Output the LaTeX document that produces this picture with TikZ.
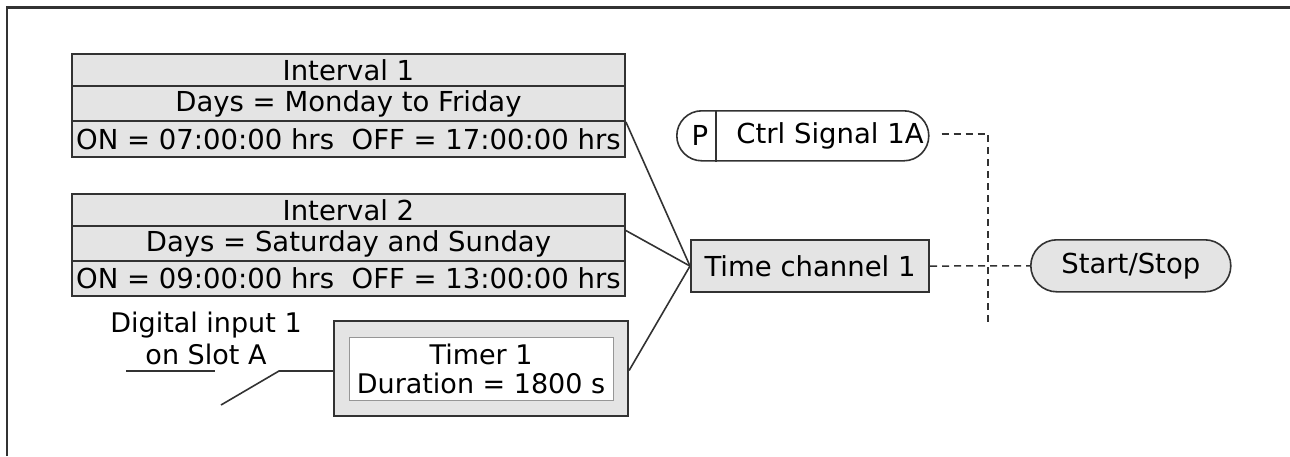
\documentclass[tikz,border=0pt]{standalone}
\usepackage{fontspec}
\setmainfont{DejaVu Sans}
\usetikzlibrary{calc}
\definecolor{boxfill}{RGB}{228,228,228}
\definecolor{edge}{RGB}{50,50,50}
\begin{document}
\begin{tikzpicture}[x=1pt,y=-1pt,
  font=\fontsize{27.5}{32}\selectfont,
  row/.style={draw=edge, line width=1.9pt, fill=boxfill, minimum width=553pt, inner sep=0pt, anchor=north west},
  gbox/.style={draw=edge, line width=2.1pt, fill=boxfill, inner sep=0pt, anchor=north west},
  pill/.style={draw=edge, line width=1.6pt, inner sep=0pt, anchor=north west, rounded corners=25pt},
  conn/.style={draw=edge, line width=1.6pt},
  dashline/.style={draw=edge, line width=1.5pt, dash pattern=on 7pt off 5pt}]
\useasboundingbox (0,0) rectangle (1290,456);
% frame
\draw[edge, line width=2.2pt] (7,456) -- (7,7.5) -- (1290,7.5);

% Interval 1
\node[row, minimum height=32pt] (i1a) at (71,53) {Interval 1};
\node[row, minimum height=35pt] (i1b) at (71,85) {Days = Monday to Friday};
\node[row, minimum height=36pt] (i1c) at (71,120) {ON = 07:00:00 hrs\ \ OFF = 17:00:00 hrs};

% Interval 2
\node[row, minimum height=32pt] (i2a) at (71,193) {Interval 2};
\node[row, minimum height=35pt] (i2b) at (71,225) {Days = Saturday and Sunday};
\node[row, minimum height=35pt] (i2c) at (71,260) {ON = 09:00:00 hrs\ \ OFF = 13:00:00 hrs};

% Timer
\node[gbox, minimum width=294pt, minimum height=95pt] (timer) at (333,320) {};
\node[draw={rgb,255:red,150;green,150;blue,150}, line width=1pt, fill=white, minimum width=264pt, minimum height=63pt, inner sep=0pt, align=center, font=\fontsize{27}{29}\selectfont] (timerin) at (timer.center) {Timer 1\\Duration = 1800 s};

% Digital input
\node[align=center, inner sep=0pt, font=\fontsize{27}{32}\selectfont] (din) at (206,338) {Digital input 1\\on Slot A};
\coordinate (ul1) at (126,371);
\coordinate (ul2) at (215,371);
\draw[conn] (ul1) -- (ul2);
\coordinate (sw) at (221,405);
\coordinate (knee) at (279,371);
\draw[conn] (sw) -- (knee) -- (timer.west |- knee);

% Time channel
\node[gbox, minimum width=238pt, minimum height=52pt] (tc) at (690,239) {Time channel 1};

% Ctrl signal pill
\node[pill, fill=white, minimum width=252pt, minimum height=50pt] (ctrl) at (676,110) {};
\draw[edge, line width=1.4pt] ($(ctrl.north west)+(40,0)$) -- ($(ctrl.south west)+(40,0)$);
\node[inner sep=0pt] (pl) at ($(ctrl.west)+(24,0)$) {P};
\node[inner sep=0pt] (cl) at ($(ctrl.west)+(154,0)$) {Ctrl Signal 1A};

% Start/Stop pill
\node[pill, fill=boxfill, minimum width=200pt, minimum height=52pt, rounded corners=26pt] (ss) at (1030,239) {Start/Stop};

% connectors
\draw[conn] (i1b.south east) -- (tc.west);
\draw[conn] ($(i2b.north east)!0.15!(i2b.south east)$) -- (tc.west);
\draw[conn] ($(timer.north east)!0.52!(timer.south east)$) -- (tc.west);

% dashed
\coordinate (dend) at (988,322);
\draw[dashline] ($(ctrl.east)+(12,-2)$) -| (dend);
\draw[dashline] (tc.east) -- (ss.west);
\end{tikzpicture}
\end{document}
